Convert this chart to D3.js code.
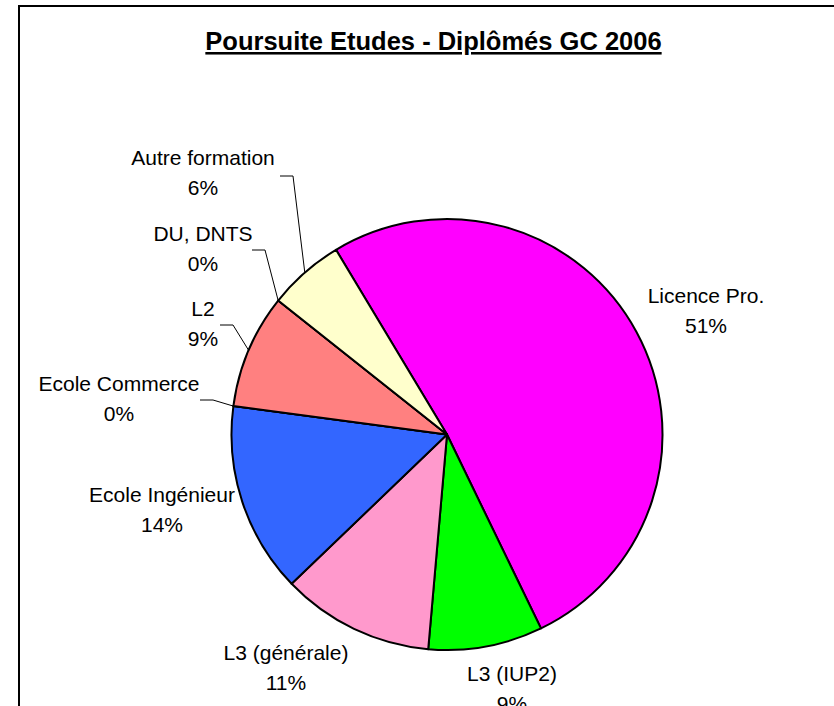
<!DOCTYPE html>
<html>
<head>
<meta charset="utf-8">
<script src="https://cdn.jsdelivr.net/npm/d3@7"></script>
<style>
  html, body { margin: 0; padding: 0; background: #fff; }
  svg { display: block; font-family: "Liberation Sans", Arial, sans-serif; }
</style>
</head>
<body>
<div id="chart"></div>
<script>
const categories = ["Licence Pro.", "L3 (IUP2)", "L3 (générale)", "Ecole Ingénieur",
                    "Ecole Commerce", "L2", "DU, DNTS", "Autre formation"];
const effectifs = [18, 3, 4, 5, 0, 3, 0, 2];
const couleurs = ["#ff00ff", "#00ff00", "#ff99cc", "#3366ff",
                  "#993366", "#ff8080", "#ccffff", "#ffffcc"];
const titre = "Poursuite Etudes - Diplômés GC 2006";

// mise en page des etiquettes (centre x, ligne de base), et amorce des lignes de rappel
const labelPos = [[706, 303], [512, 681], [286, 660], [162, 502],
                  [119, 391], [203, 316], [203, 241], [203, 165]];
const leaders = [null, null, null, null, [200, 400], [220, 325], [252, 250], [280, 176]];

const W = 834, H = 706,
      cx = 447, cy = 434.5, r = 215.5,
      startDeg = -31;

const svg = d3.select("#chart").append("svg")
    .attr("width", W).attr("height", H);

// cadre (coupe a droite et en bas)
svg.append("rect")
    .attr("x", 19).attr("y", 6)
    .attr("width", W).attr("height", H)
    .attr("fill", "#fff").attr("stroke", "#000").attr("stroke-width", 2);

svg.append("text")
    .attr("x", 433.5).attr("y", 50)
    .attr("text-anchor", "middle")
    .attr("font-size", "25.5px").attr("font-weight", "bold")
    .attr("text-decoration", "underline")
    .text(titre);

const total = d3.sum(effectifs);
const pct = d3.format(".0%");

const pie = d3.pie().sort(null)
    .startAngle(startDeg * Math.PI / 180)
    .endAngle((startDeg + 360) * Math.PI / 180);
const arcs = pie(effectifs);
const arc = d3.arc().innerRadius(0).outerRadius(r);

const g = svg.append("g").attr("transform", `translate(${cx},${cy})`);

g.selectAll("path.slice")
  .data(arcs)
  .join("path")
    .attr("class", "slice")
    .attr("d", arc)
    .attr("fill", (d, i) => couleurs[i])
    .attr("stroke", "#000")
    .attr("stroke-width", 2)
    .attr("stroke-linejoin", "round");

// lignes de rappel vers le milieu de la part
arcs.forEach((d, i) => {
  const s = leaders[i];
  if (!s) return;
  const a = (d.startAngle + d.endAngle) / 2;
  const ex = cx + r * Math.sin(a), ey = cy - r * Math.cos(a);
  svg.append("polyline")
      .attr("points", [[s[0], s[1]], [s[0] + 13, s[1]], [ex, ey]].map(p => p.join(",")).join(" "))
      .attr("fill", "none").attr("stroke", "#000").attr("stroke-width", 1);
});

const lab = svg.selectAll("text.lab")
  .data(arcs)
  .join("text")
    .attr("class", "lab")
    .attr("text-anchor", "middle")
    .attr("font-size", "21px")
    .attr("fill", "#000");
lab.append("tspan")
    .attr("x", (d, i) => labelPos[i][0]).attr("y", (d, i) => labelPos[i][1])
    .text((d, i) => categories[i]);
lab.append("tspan")
    .attr("x", (d, i) => labelPos[i][0]).attr("y", (d, i) => labelPos[i][1] + 29.5)
    .text(d => pct(d.data / total));
</script>
</body>
</html>
